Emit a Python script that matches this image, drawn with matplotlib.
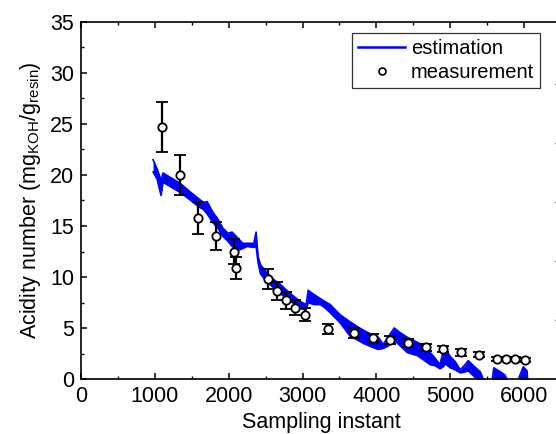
import matplotlib
matplotlib.use("Agg")
import matplotlib.pyplot as plt
from matplotlib.lines import Line2D

plt.rcParams['font.family'] = ['Liberation Sans', 'DejaVu Sans']
plt.rcParams['mathtext.fontset'] = 'custom'
plt.rcParams['mathtext.rm'] = 'Liberation Sans'
plt.rcParams['mathtext.it'] = 'Liberation Sans'

# Estimation band (upper / lower envelope of the fast-oscillating estimate)
est_x = [976, 1030, 1084, 1110, 1200, 1341, 1470, 1572, 1660, 1707, 1789, 1843,
         1920, 1990, 2046, 2127, 2190, 2249, 2340, 2371, 2398, 2430, 2520, 2600,
         2696, 2800, 2900, 2967, 3050, 3076, 3150, 3238, 3300, 3374, 3509, 3645,
         3750, 3821, 3950, 4024, 4092, 4150, 4241, 4330, 4417, 4553, 4634, 4729,
         4800, 4860, 4905, 4932, 5000, 5068, 5136, 5200, 5244, 5330, 5407, 5447,
         5500, 5560, 5590, 5678, 5740, 5786, 5900, 5940, 5989, 6040, 6057]
est_upper = [21.5, 20.6, 19.5, 20.2, 19.8, 19.2, 18.4, 17.8, 17.3, 17.4, 16.3, 15.8,
             14.8, 14.3, 14.4, 13.8, 13.3, 13.3, 13.3, 14.4, 12.0, 11.2, 10.4, 9.8,
             9.3, 8.6, 8.0, 7.6, 7.3, 8.7, 8.3, 7.9, 7.6, 7.3, 6.3, 5.6,
             5.1, 4.8, 4.3, 4.1, 3.4, 4.0, 5.0, 4.5, 4.1, 3.6, 3.3, 2.6,
             2.0, 1.4, 2.7, 3.0, 2.2, 1.7, 0.9, 1.4, 1.8, 1.2, 0.7, 0.0,
             -1.0, -0.5, 1.1, 0.7, 0.4, -0.3, -0.5, 0.3, 1.2, 0.8, -1.0]
est_lower = [20.3, 19.6, 18.0, 19.3, 18.9, 18.3, 17.6, 17.0, 16.6, 16.2, 15.3, 14.9,
             14.0, 13.5, 13.0, 12.6, 12.8, 13.0, 12.9, 13.0, 11.4, 10.3, 9.5, 9.0,
             8.4, 7.8, 7.3, 6.9, 6.8, 7.5, 7.3, 7.3, 7.0, 6.5, 5.5, 4.2,
             3.8, 3.5, 3.1, 2.9, 3.0, 3.2, 3.8, 3.2, 2.6, 2.3, 1.9, 1.4,
             1.3, 1.0, 1.2, 1.5, 1.1, 0.9, 0.6, 0.7, 0.8, 0.2, -0.5, -1.0,
             -2.0, -1.5, -0.5, -0.5, -0.5, -1.0, -1.5, -0.5, -0.5, -0.5, -2.0]

# Measurements
meas_x = [1098, 1341, 1585, 1829, 2073, 2100, 2534, 2656, 2778, 2900, 3035, 3347,
          3700, 3957, 4190, 4430, 4675, 4905, 5149, 5393, 5637, 5759, 5881, 6016]
meas_y = [24.7, 20.0, 15.8, 14.0, 12.5, 10.9, 9.8, 8.6, 7.7, 7.0, 6.3, 4.9,
          4.5, 4.0, 3.8, 3.5, 3.1, 2.9, 2.6, 2.4, 2.0, 2.0, 1.95, 1.85]
meas_err = [2.45, 2.0, 1.6, 1.4, 1.25, 1.1, 1.0, 0.9, 0.8, 0.75, 0.65, 0.5,
            0.5, 0.45, 0.4, 0.4, 0.35, 0.3, 0.3, 0.25, 0.2, 0.2, 0.2, 0.2]

x_ticks = [0, 1000, 2000, 3000, 4000, 5000, 6000]
y_ticks = [0, 5, 10, 15, 20, 25, 30, 35]

fig = plt.figure(figsize=(5.56, 4.34), dpi=100)
ax = fig.add_axes([81/556, 55/434, 480/556, 357/434])

blue = '#0000ff'
ax.fill_between(est_x, est_lower, est_upper, color=blue, lw=0, zorder=2)
ax.plot(est_x, est_upper, color=blue, lw=1.2, zorder=2)
ax.plot(est_x, est_lower, color=blue, lw=1.2, zorder=2)

ax.errorbar(meas_x, meas_y, yerr=meas_err, fmt='o', ms=6, mfc='white', mec='black',
            mew=1.3, ecolor='black', elinewidth=1.6, capsize=4, capthick=1.6, zorder=3)

ax.set_xlim(0, 6500)
ax.set_ylim(0, 35)
ax.set_xticks(x_ticks)
ax.set_yticks(y_ticks)
ax.set_xticks([500, 1500, 2500, 3500, 4500, 5500], minor=True)
ax.set_yticks([2.5, 7.5, 12.5, 17.5, 22.5, 27.5, 32.5], minor=True)
ax.tick_params(which='major', direction='in', length=4, width=1.1, labelsize=15.5,
               top=True, right=False, pad=5)
ax.tick_params(which='minor', direction='in', length=2.5, width=1.0, top=True, right=False)
for s in ax.spines.values():
    s.set_linewidth(1.2)

ax.set_xlabel('Sampling instant', fontsize=15.5, labelpad=3.5)
ax.set_ylabel(r'Acidity number (mg$_{\mathrm{KOH}}$/g$_{\mathrm{resin}}$)', fontsize=15.5, labelpad=5)

# hidden secondary axis showing only its inward tick marks at the right edge
ax2 = ax.twinx()
ax2.set_ylim(0, 6.05)
ax2.set_yticks([1, 2, 3, 4, 5])
ax2.set_yticklabels([])
ax2.tick_params(direction='in', length=4.5, width=1.0, right=True)
for s in ax2.spines.values():
    s.set_visible(False)

handles = [Line2D([], [], color=blue, lw=1.8),
           Line2D([], [], marker='o', ls='none', ms=5, mfc='white', mec='black', mew=1.2)]
leg = ax.legend(handles, ['estimation', 'measurement'], loc='upper right',
                bbox_to_anchor=(459/480, 1 - 11/357), fontsize=14.5, frameon=True,
                fancybox=False, edgecolor='black', handlelength=2.3, handletextpad=0.3,
                borderpad=0.3, labelspacing=0.25, borderaxespad=0)
leg.get_frame().set_linewidth(0.9)

fig.savefig('out.png', dpi=100)
